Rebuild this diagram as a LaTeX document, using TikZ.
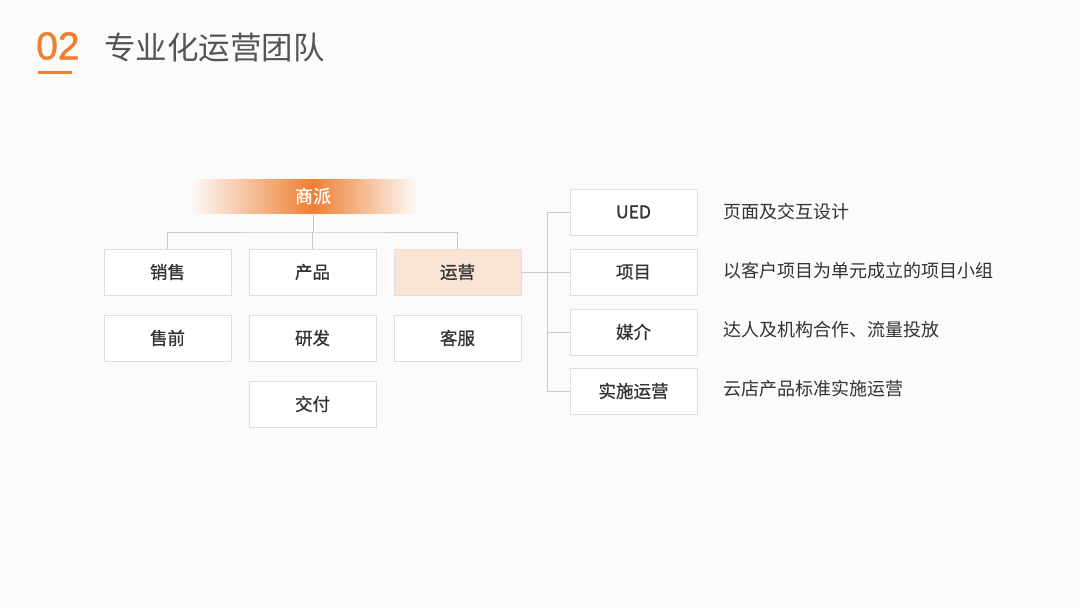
\documentclass[tikz,border=0pt]{standalone}
\usepackage{fontspec}
\setmainfont{Noto Sans CJK SC}
\newfontfamily\medfont[FakeBold=0.8]{Noto Sans CJK SC}
\newfontfamily\numfont[FakeBold=1.2]{Liberation Sans}
\usetikzlibrary{shadows}
\definecolor{bgc}{RGB}{252,251,249}
\definecolor{orng}{RGB}{238,128,52}
\definecolor{peach}{RGB}{250,228,214}
\definecolor{boxline}{RGB}{222,222,222}
\definecolor{conn}{RGB}{200,200,200}
\definecolor{txt}{RGB}{51,51,51}
\definecolor{ttl}{RGB}{85,85,85}
\tikzset{
  orgbox/.style={draw=boxline, line width=0.8pt, fill=white, minimum width=127pt, minimum height=46pt,
    inner sep=0pt, font=\medfont\fontsize{17.5}{20}\selectfont, text=txt,
    drop shadow={shadow xshift=0.6pt, shadow yshift=-1.4pt, opacity=0.12, fill=black}},
  desc/.style={anchor=west, inner sep=0pt, font=\fontsize{18}{20}\selectfont, text=txt},
  link/.style={draw=conn, line width=0.8pt}
}
\begin{document}
\begin{tikzpicture}[x=1pt,y=-1pt]
\fill[bgc] (0,0) rectangle (1080,608);
\useasboundingbox (0,0) rectangle (1080,608);
% title
\node[anchor=west, inner sep=0pt, text=orng, font=\numfont\fontsize{39}{40}\selectfont] (num) at (36,46) {02};
\fill[orng] (38,71) rectangle (72,74);
\node[anchor=west, inner sep=0pt, text=ttl, font=\fontsize{31.5}{33}\selectfont] (title) at (104,48) {专业化运营团队};
% top gradient bar
\shade[left color=bgc, right color=orng] (190,179) rectangle (313,213);
\shade[left color=orng, right color=bgc] (313,179) rectangle (417,213);
\node[inner sep=0pt, minimum width=227pt, minimum height=34pt, text=white, font=\medfont\fontsize{18}{20}\selectfont] (sp) at (313,196) {商派};
% boxes
\node[orgbox] (xs) at (167.5,272) {销售};
\node[orgbox] (cp) at (312.5,272) {产品};
\node[orgbox, fill=peach] (yy) at (457.5,272) {运营};
\node[orgbox] (sq) at (167.5,338) {售前};
\node[orgbox] (yf) at (312.5,338) {研发};
\node[orgbox] (kf) at (457.5,338) {客服};
\node[orgbox] (jf) at (312.5,404) {交付};
\node[orgbox] (ued) at (633.5,212) {UED};
\node[orgbox] (xm) at (633.5,272) {项目};
\node[orgbox] (mj) at (633.5,332) {媒介};
\node[orgbox] (ss) at (633.5,391) {实施运营};
% descriptions
\node[desc] (d1) at (723,212) {页面及交互设计};
\node[desc] (d2) at (723,271) {以客户项目为单元成立的项目小组};
\node[desc] (d3) at (723,330) {达人及机构合作、流量投放};
\node[desc] (d4) at (723,389) {云店产品标准实施运营};
% connectors
\coordinate (bus) at (313,232);
\draw[link] (sp.south) -- (bus);
\draw[link] (xs.north) |- (bus) -| (yy.north);
\draw[link] (cp.north) -- (cp.north |- bus);
\coordinate (rb) at (547,272);
\draw[link] (yy.east) -- (rb);
\draw[link] (ued.west) -- (ued.west -| rb) -- (ss.west -| rb) -- (ss.west);
\draw[link] (xm.west) -- (xm.west -| rb);
\draw[link] (mj.west) -- (mj.west -| rb);
\end{tikzpicture}
\end{document}
